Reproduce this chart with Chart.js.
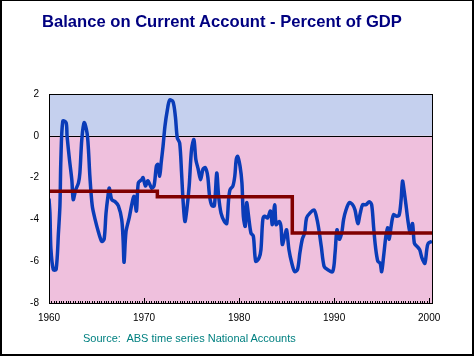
<!DOCTYPE html>
<html>
<head>
<meta charset="utf-8">
<script src="https://cdn.jsdelivr.net/npm/chart.js@4/dist/chart.umd.min.js"></script>
<style>
  html, body { margin: 0; padding: 0; background: #fff; }
  #frame { position: absolute; left: 0; top: 0; width: 474px; height: 356px; box-sizing: border-box;
           border-left: 2px solid #000; border-top: 1px solid #000; border-right: 2px solid #000; border-bottom: 2px solid #000; }
  #title { position: absolute; left: 42px; top: 12px; font: bold 16.6px "Liberation Sans", Arial, sans-serif; color: #000080; white-space: nowrap; }
  #source { position: absolute; left: 83px; top: 332px; font: 11px "Liberation Sans", Arial, sans-serif; color: #008080; white-space: pre; }
  canvas { position: absolute; left: 0; top: 0; }
</style>
</head>
<body>
<div id="frame"></div>
<canvas id="c" width="474" height="356"></canvas>
<div id="title">Balance on Current Account - Percent of GDP</div>
<div id="source">Source:  ABS time series National Accounts</div>
<script>
// ---- data ----
const years = [
  1960.0,1960.1,1960.2,1960.45,1960.75,1961.0,1961.15,1961.25,1961.45,1961.8,1961.9,
  1962.15,1962.4,1962.55,1962.8,1963.1,1963.25,1963.45,1963.7,1964.0,1964.15,1964.3,1964.55,1964.85,
  1965.2,1965.55,1965.8,1966.0,1966.2,1966.35,1966.6,1966.95,1967.3,1967.65,1967.8,1967.9,
  1968.1,1968.45,1968.75,1968.95,1969.2,1969.4,1969.75,1969.9,1970.15,1970.4,1970.8,1971.05,
  1971.3,1971.45,1971.65,1971.8,1972.0,1972.2,1972.45,1972.7,1973.05,1973.3,1973.5,1973.75,1973.95,
  1974.1,1974.3,1974.5,1974.75,1975.0,1975.25,1975.45,1975.7,1975.95,1976.2,1976.45,1976.7,1976.9,
  1977.15,1977.4,1977.65,1977.85,1978.1,1978.45,1978.7,1978.9,1979.05,1979.35,1979.55,1979.7,1979.85,
  1980.1,1980.3,1980.45,1980.65,1980.8,1981.0,1981.25,1981.5,1981.75,1982.1,1982.3,1982.5,1982.7,
  1983.0,1983.3,1983.5,1983.75,1983.9,1984.2,1984.4,1984.55,1984.8,1985.0,1985.25,1985.55,1985.85,
  1986.15,1986.4,1986.65,1986.9,1987.1,1987.45,1987.9,1988.2,1988.4,1988.65,1988.95,1989.3,1989.85,
  1990.1,1990.3,1990.55,1990.8,1991.0,1991.25,1991.6,1991.95,1992.2,1992.5,1992.75,1993.0,1993.35,
  1993.7,1993.95,1994.15,1994.35,1994.6,1994.85,1995.0,1995.2,1995.45,1995.65,1995.8,1996.0,1996.25,
  1996.6,1996.85,1997.05,1997.2,1997.4,1997.6,1997.75,1998.0,1998.25,1998.45,1998.75,1999.0,1999.25,
  1999.55,1999.75,1999.9,2000.3
];
const balance = [
  -3.0,-3.7,-5.4,-6.4,-6.4,-4.6,-3.35,-1.13,0.7,0.63,0.0,
  -1.13,-2.1,-3.05,-2.6,-2.25,-1.77,-0.18,0.63,0.15,-0.65,-1.93,-3.35,-4.0,
  -4.6,-5.05,-4.95,-3.7,-2.9,-2.5,-3.05,-3.15,-3.35,-4.0,-5.0,-6.05,
  -4.6,-3.9,-3.2,-2.9,-3.6,-2.25,-2.1,-2.0,-2.4,-2.15,-2.5,-2.4,
  -1.45,-1.37,-1.93,-1.3,-0.5,0.46,1.23,1.71,1.63,0.91,-0.1,-0.35,-1.78,
  -3.05,-4.1,-3.55,-2.4,-0.65,-0.18,-1.13,-1.6,-2.1,-1.6,-1.53,-1.93,-2.9,
  -3.35,-3.35,-1.78,-2.9,-3.7,-4.1,-4.2,-3.05,-2.58,-2.4,-1.93,-1.13,-0.98,
  -1.45,-2.25,-3.85,-4.33,-3.2,-3.85,-4.65,-4.8,-6.0,-5.85,-5.45,-4.0,-3.85,
  -3.93,-3.6,-4.25,-3.3,-4.25,-4.1,-4.3,-5.2,-4.8,-4.5,-5.45,-6.1,-6.5,
  -6.4,-5.6,-4.95,-4.65,-3.93,-3.7,-3.55,-4.0,-4.5,-5.3,-6.25,-6.4,-6.5,
  -5.6,-4.5,-4.95,-4.65,-4.0,-3.55,-3.2,-3.3,-3.55,-4.2,-3.7,-3.3,-3.3,
  -3.15,-3.3,-4.33,-5.3,-6.0,-6.1,-6.5,-5.8,-4.8,-4.4,-4.95,-4.33,-3.78,
  -3.85,-3.78,-3.05,-2.17,-2.74,-3.45,-4.0,-4.65,-4.2,-5.15,-5.3,-5.45,-5.85,
  -6.1,-5.45,-5.15,-5.05
];
const avgYears = [1960, 1971.4, 1985.6, 2000.3];
const avgValues = [-2.65, -2.92, -4.65, -4.65];
const xTickValues = [1960, 1970, 1980, 1990, 2000];
const yTickValues = [2, 0, -2, -4, -6, -8];
const xMin = 1960, xMax = 2000.3, yMin = -8, yMax = 2;

const backdrop = {
  id: 'backdrop',
  beforeDatasetsDraw(chart) {
    const { ctx, chartArea: a, scales: { x, y } } = chart;
    const y0 = y.getPixelForValue(0);
    ctx.save();
    ctx.fillStyle = '#c5d0ee';
    ctx.fillRect(a.left, a.top, a.right - a.left, y0 - a.top);
    ctx.fillStyle = '#efc0dd';
    ctx.fillRect(a.left, y0, a.right - a.left, a.bottom - y0);
    ctx.strokeStyle = '#000';
    ctx.lineWidth = 1;
    ctx.beginPath();
    ctx.moveTo(a.left, Math.round(y0) + 0.5);
    ctx.lineTo(a.right, Math.round(y0) + 0.5);
    ctx.stroke();
    ctx.restore();
  },
  afterDatasetsDraw(chart) {
    const { ctx, chartArea: a, scales: { x } } = chart;
    ctx.save();
    ctx.strokeStyle = '#000';
    ctx.lineWidth = 1;
    ctx.beginPath();
    for (let q = 0; q <= 161; q++) {
      const v = xMin + q * 0.25;
      if (v > xMax) break;
      const px = Math.round(x.getPixelForValue(v)) + 0.5;
      const len = (q % 40 === 0) ? 5 : 2;
      ctx.moveTo(px, a.bottom);
      ctx.lineTo(px, a.bottom - len);
    }
    ctx.stroke();
    ctx.lineWidth = 1;
    ctx.strokeRect(Math.round(a.left) + 0.5, Math.round(a.top) + 0.5, Math.round(a.right - a.left), Math.round(a.bottom - a.top));
    ctx.restore();
  }
};

new Chart(document.getElementById('c'), {
  type: 'line',
  data: {
    datasets: [
      {
        label: 'Period average',
        data: avgYears.map((v, i) => ({ x: v, y: avgValues[i] })),
        borderColor: '#800000',
        borderWidth: 3.5,
        stepped: true,
        pointRadius: 0,
        fill: false
      },
      {
        label: 'Balance on current account',
        data: years.map((v, i) => ({ x: v, y: balance[i] })),
        borderColor: '#0a3cb8',
        borderWidth: 3.5,
        tension: 0.3,
        pointRadius: 0,
        fill: false
      }
    ]
  },
  options: {
    responsive: false,
    animation: false,
    events: [],
    layout: { padding: { left: 0, top: 94, right: 42, bottom: 0 } },
    plugins: { legend: { display: false }, title: { display: false }, tooltip: { enabled: false } },
    scales: {
      x: {
        type: 'linear', min: xMin, max: xMax,
        grid: { display: false, drawTicks: false },
        border: { display: false },
        afterFit(s) { s.height = 53; },
        afterBuildTicks(s) { s.ticks = xTickValues.map(v => ({ value: v })); },
        ticks: { padding: 9, color: '#000', maxRotation: 0, autoSkip: false,
                 font: { family: '"Liberation Sans", Arial, sans-serif', size: 10 },
                 callback: v => String(v) }
      },
      y: {
        type: 'linear', min: yMin, max: yMax,
        grid: { display: false, drawTicks: false },
        border: { display: false },
        afterFit(s) { s.width = 49; },
        afterBuildTicks(s) { s.ticks = yTickValues.map(v => ({ value: v })); },
        ticks: { padding: 10, color: '#000', autoSkip: false,
                 font: { family: '"Liberation Sans", Arial, sans-serif', size: 10 },
                 callback: v => String(v) }
      }
    }
  },
  plugins: [backdrop]
});
</script>
</body>
</html>
